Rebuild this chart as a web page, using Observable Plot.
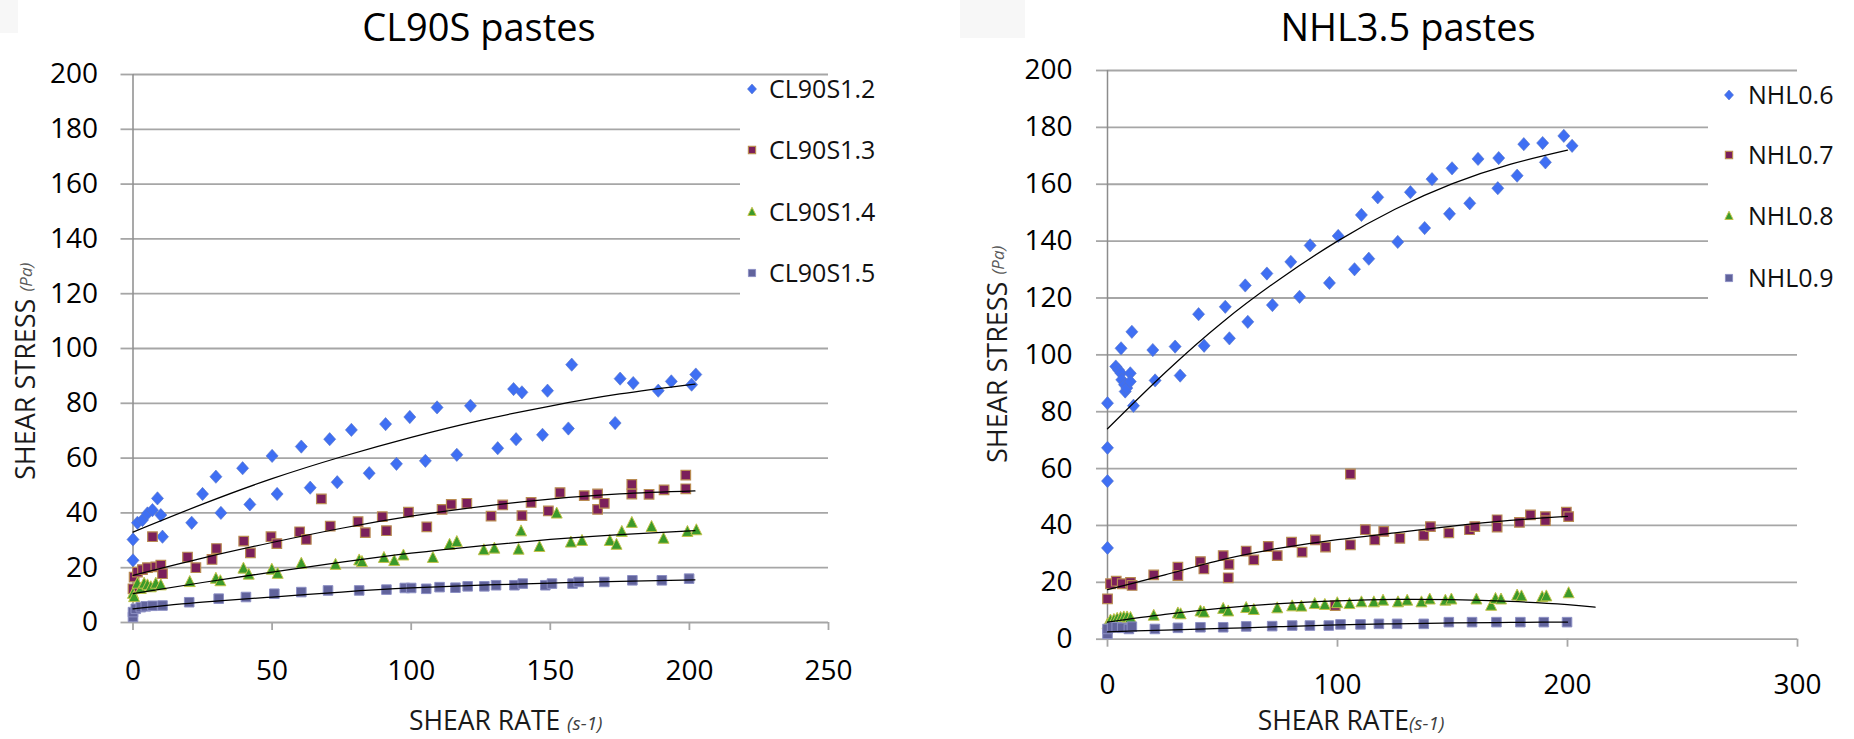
<!DOCTYPE html>
<html><head><meta charset="utf-8">
<script src="https://cdn.jsdelivr.net/npm/d3@7"></script>
<script src="https://cdn.jsdelivr.net/npm/@observablehq/plot@0.6"></script>
<style>
body{margin:0;background:#fff;}
#wrap{position:relative;width:1854px;height:739px;overflow:hidden;background:#fff;}
#wrap svg{position:absolute;top:0;}
</style></head><body><div id="wrap"></div>
<script>
// ---------------- DATA ----------------
const titles = ["CL90S pastes", "NHL3.5 pastes"];
const yAxisLabel = "SHEAR STRESS";
const yAxisUnit = "(Pa)";
const xAxisLabel = "SHEAR RATE";
const xAxisUnit = "(s-1)";
const yTicks = [0, 20, 40, 60, 80, 100, 120, 140, 160, 180, 200];
const clXTicks = [0, 50, 100, 150, 200, 250];
const nhlXTicks = [0, 100, 200, 300];

const clSeries = ["CL90S1.2", "CL90S1.3", "CL90S1.4", "CL90S1.5"];
const nhlSeries = ["NHL0.6", "NHL0.7", "NHL0.8", "NHL0.9"];

const cl12_x = [0,0,1.6,3.4,5.2,7,8.8,10,10.6,21.1,25,29.8,31.6,39.4,42,50,51.8,60.5,63.7,70.7,73.4,78.5,84.9,90.8,94.7,99.5,105.1,109.3,116.4,121.3,131.1,136.8,137.7,139.8,147.2,149,156.5,157.7,173.3,175.1,179.8,188.8,193.5,200.8,202.3];
const cl12_y = [22.7,30.3,36.4,37.4,39.8,41,45.3,39.2,31.3,36.4,46.9,53.2,40,56.3,43.1,60.8,46.9,64.2,49.2,66.9,51.2,70.3,54.5,72.4,57.9,75,59,78.5,61.2,79.1,63.6,85.2,66.9,84,68.5,84.6,70.8,94.1,72.8,89,87.4,84.6,88,86.8,90.5];
const cl13_x = [0,0.4,1.6,3.4,5.2,7,8.2,10,10.6,19.6,22.6,28.4,30,39.8,42.2,49.6,51.7,59.9,62.3,67.7,70.9,80.9,83.5,89.6,91.1,99,105.6,111.1,114.4,120,128.7,132.9,139.8,143.1,149.3,153.5,162.2,167,167,169.4,179.3,179.3,185.5,190.9,198.7,198.7];
const cl13_y = [12.3,16.6,18.4,19.3,20,31.3,20.3,20.9,17.8,23.9,20,23,27,29.7,25.4,31.3,28.8,33.1,30.3,45.1,35.2,36.8,32.8,38.6,33.5,40.3,34.9,41.3,43.1,43.5,38.8,42.9,39,43.8,40.7,47.4,46.3,46.9,41.3,43.5,50.4,46.9,46.8,48.4,53.8,48.8];
const cl14_x = [0,0.4,1.6,2.8,4,5.2,6.4,8.2,10,20.4,29.8,31.4,39.7,41.6,49.9,52,60.5,72.8,81.3,82.3,90.2,93.9,97.2,107.8,113.8,116.4,126.1,129.9,138.6,139.5,146.1,152.3,157.4,161.4,171.4,173.8,175.7,179.3,186.4,190.7,199.3,202.5];
const cl14_y = [10.5,9.3,14.2,12.3,14.2,13.6,12.9,14.2,13.6,14.8,16,15.1,19.7,17.5,19.3,17.8,21.5,21.1,22.7,22.1,23.6,22.5,24.5,23.6,28.4,29.4,26.4,27,26.6,33.3,27.6,39.8,29.2,29.8,29.8,28.4,33.1,36.4,34.9,30.6,33.1,33.7];
const cl15_x = [0,0,1,2.8,4.6,7,10.6,20.2,30.8,40.6,50.8,60.5,70.1,81.3,91.1,97.7,100,105.4,110.2,115.9,120.3,126.3,130.5,137.1,140.1,148.2,150.6,158,160.2,169.4,179.5,190.1,199.9];
const cl15_y = [2,3.8,5,5.6,5.9,6.1,6.2,7.4,8.7,9.3,10.5,11.1,11.7,11.7,12,12.6,12.6,12.3,12.9,12.7,13.2,13.2,13.6,13.6,14.2,13.6,14.2,14.2,14.8,14.8,15.4,15.4,16];

// trend lines
const clTrend_x = [0,25,50,75,100,125,150,175,202];
const cl12_trend = [33,43.2,52.5,60.5,67.6,73.8,79,83.4,87];
const cl13_trend = [17.2,23.5,29.2,34.4,38.8,42.3,45,46.9,48];
const cl14_trend = [10.5,14.6,18.4,22,25.3,28,30.3,32.1,33.5];
const cl15_trend = [5,7.4,9.3,11.1,12.6,13.6,14.4,15,15.6];

const nhl06_x = [0,0,0,0,3.6,4.8,5.9,6.2,7.4,7.7,8.4,9.9,9.9,5.9,10.6,11.3,19.7,20.7,29.4,31.6,39.6,42,51.2,53,59.9,61,69.3,71.7,79.7,83.5,88.1,96.5,100.3,107.4,110.4,113.6,117.5,126.2,131.7,137.9,141.1,148.7,149.8,157.5,161.1,169.7,170.1,178.1,181,189.2,190.4,198.4,202];
const nhl06_y = [32.1,55.6,67.3,83,95.9,94.7,93.5,91.2,89.5,87.1,88.3,93.5,90.6,102.3,108.1,82.1,101.7,91,102.9,92.7,114.3,103.2,116.9,105.8,124.4,111.6,128.6,117.5,132.7,120.4,138.5,125.3,141.8,130.1,149.2,133.8,155.4,139.7,157.2,144.6,161.8,149.6,165.6,153.3,168.9,158.6,169.2,163,174.1,174.5,167.7,177,173.5];
const nhl07_x = [0,1.3,3.8,6.4,10,10.7,20.1,30.6,30.6,40.4,41.9,50.3,52.5,52.8,60.3,63.6,69.9,73.8,80,84.6,90.4,94.8,99,105.6,105.6,112.1,116.2,120.1,127.1,137.5,140.4,148.4,157.4,159.7,169.4,169.4,179.1,183.9,190.4,190.4,199.5,200.5];
const nhl07_y = [14.2,19.5,20.4,19.5,20,18.9,22.6,25.3,22.4,27.3,24.7,29.4,21.6,26.3,31,27.9,32.6,29.4,34.1,30.6,34.9,32.4,11.8,58.1,33.2,38.5,34.9,37.9,35.5,36.5,39.6,37.4,38.5,39.6,42,39.4,41.1,43.7,43.1,41.7,44.7,43.1];
const nhl08_x = [0,1.3,2.8,4.2,5.7,7.1,8.5,10,20.1,30.6,31.8,40.4,41.9,50.3,52.5,60.3,63.6,73.8,80.3,84.3,90.1,94.5,99.9,105.2,110.4,115.8,119.8,126.3,130.3,136.5,140.1,146.9,149.5,160.4,166.8,168.7,171.1,178.1,180,189,190.8,200.5];
const nhl08_y = [5.2,6.6,6.8,7.2,7.5,7.7,7.7,7.5,8.3,9.1,8.8,9.8,9.4,10.7,9.8,11,10.3,10.9,11.6,11.5,12.4,12.1,12.7,12.4,13,13,13.6,13,13.6,13,14,13.6,14,14,11.8,14.2,14,15.4,15.1,14.8,15.1,16.2];
const nhl09_x = [0,0,2,4,6.4,9.3,10.6,20.6,30.6,40.4,50.3,60.3,71.6,80.3,88,96.2,101.3,110,118,125.9,137.5,148.4,158.5,169.1,179.5,189.7,199.8];
const nhl09_y = [1.9,3.6,4.2,4.2,4,3.6,4.4,3.6,4,4.2,4.2,4.5,4.6,4.8,4.8,4.8,5.2,5.2,5.4,5.4,5.4,6,6,6,6,6,6];

const nhlTrend_x = [0,25,50,75,100,125,150,175,200];
const nhl06_trend = [74,93.7,111.5,126.7,140,151.2,160.2,167,172];
const nhl07_trend = [17.4,22.6,28,32,35,37.4,39.8,41.8,43.2];
const nhl08_trend_x = [0,25,50,75,100,125,150,175,200,212];
const nhl08_trend = [6,8.7,10.9,12.5,13.5,14,13.9,13.3,12.2,11.3];
const nhl09_trend = [2.6,3.2,3.8,4.4,5,5.4,5.7,5.9,6];

// ---------------- STYLE ----------------
const FONT = '"Open Sans", "Noto Sans", sans-serif';
const GRID = "#a6a6a6";
const W = 927, H = 739;
const diamondSym = {draw(c, size){ const s = Math.sqrt(size); c.moveTo(0,-0.55*s); c.lineTo(0.5*s,0); c.lineTo(0,0.55*s); c.lineTo(-0.5*s,0); c.closePath(); }};
const squareSym = {draw(c, size){ const s = Math.sqrt(size)/2; c.moveTo(-s,-s); c.lineTo(s,-s); c.lineTo(s,s); c.lineTo(-s,s); c.closePath(); }};
const triSym = {draw(c, size){ const s = Math.sqrt(size); c.moveTo(0,-0.58*s); c.lineTo(0.5*s,0.42*s); c.lineTo(-0.5*s,0.42*s); c.closePath(); }};
const seriesStyle = [
  {symbol: diamondSym, r: 6.8, fill: "#3f6ff3", stroke: "#5873c6", strokeWidth: 0.6},
  {symbol: squareSym,  r: 5.4, fill: "#7b1f5b", stroke: "#b98b52", strokeWidth: 1.2},
  {symbol: triSym,     r: 6.2, fill: "#3b9a2a", stroke: "#c2c24a", strokeWidth: 1},
  {symbol: squareSym,  r: 5.4, fill: "#61639c", stroke: "#8d90c4", strokeWidth: 1}
];

function rows(xs, ys, s) { return xs.map((x, i) => ({x, y: ys[i], s})); }

function chart(cfg) {
  const marks = [
    Plot.gridY(yTicks, {stroke: GRID, strokeOpacity: 1, strokeWidth: 1.8}),
    Plot.axisY(yTicks, {tickSize: cfg.yTickSize, tickPadding: cfg.yTickPad, stroke: GRID, strokeWidth: 1.8, fill: "#000", fontSize: 28, label: null}),
    Plot.axisX(cfg.xTicks, {tickSize: 8, tickPadding: cfg.xTickPad, stroke: GRID, strokeWidth: 1.8, fill: "#000", fontSize: 28, label: null}),
    Plot.ruleX([0], {stroke: "#8c8c8c", strokeWidth: 1.5})
  ];
  cfg.points.forEach((d, i) => {
    const st = seriesStyle[i];
    marks.push(Plot.dot(d, {x: "x", y: "y", symbol: st.symbol, r: st.r, fill: st.fill, stroke: st.stroke, strokeWidth: st.strokeWidth}));
  });
  marks.push(Plot.line(cfg.trends, {x: "x", y: "y", z: "s", stroke: "#000", strokeWidth: 1.25, curve: "natural"}));
  const svg = Plot.plot({
    width: W, height: H,
    marginLeft: cfg.ml, marginRight: cfg.mr, marginTop: cfg.mt, marginBottom: cfg.mb,
    style: {background: "transparent", fontFamily: FONT, overflow: "visible", color: "#000"},
    x: {domain: cfg.xDomain},
    y: {domain: [0, 200]},
    marks
  });
  svg.style.left = cfg.left + "px";
  const g = d3.select(svg).append("g").attr("font-family", FONT).attr("text-anchor", "start");
  // faint corner box
  g.append("rect").attr("x", cfg.corner[0]).attr("y", 0).attr("width", cfg.corner[1]).attr("height", cfg.corner[2]).attr("fill", "#f7f7f7");
  // legend backdrop
  g.append("rect").attr("x", cfg.legBox[0]).attr("y", cfg.legBox[1]).attr("width", cfg.legBox[2]).attr("height", cfg.legBox[3]).attr("fill", "#fff");
  cfg.names.forEach((name, i) => {
    const st = seriesStyle[i];
    const y = cfg.legY[i];
    g.append("path").attr("transform", `translate(${cfg.legX},${y})`)
      .attr("d", d3.symbol(st.symbol, Math.PI * (st.r * 0.75) ** 2)())
      .attr("fill", st.fill).attr("stroke", st.stroke).attr("stroke-width", st.strokeWidth);
    g.append("text").attr("x", cfg.legX + cfg.legGap).attr("y", y).attr("dy", "0.36em")
      .attr("text-anchor", "start").attr("font-size", 25).attr("fill", "#111").text(name);
  });
  // title
  g.append("text").attr("x", cfg.titleX).attr("y", cfg.titleY).attr("text-anchor", "middle")
    .attr("font-size", 38).attr("fill", "#000").text(cfg.title);
  // x label
  const xl = g.append("text").attr("x", cfg.xLabX).attr("y", cfg.xLabY).attr("text-anchor", cfg.xLabAnchor)
    .attr("font-size", 26.5).attr("fill", "#1a1a1a");
  xl.append("tspan").text(xAxisLabel + cfg.xLabSep);
  xl.append("tspan").attr("font-style", "italic").attr("font-size", 19).attr("fill", "#404040").text(xAxisUnit);
  // y label
  const yl = g.append("text").attr("transform", `translate(${cfg.yLabX},${cfg.yLabY}) rotate(-90)`)
    .attr("text-anchor", "start").attr("font-size", 27).attr("fill", "#1a1a1a");
  yl.append("tspan").text(yAxisLabel + " ");
  yl.append("tspan").attr("font-style", "italic").attr("font-size", 17).attr("fill", "#595959").attr("dy", -3).text(yAxisUnit);
  document.getElementById("wrap").appendChild(svg);
}

const clPoints = [rows(cl12_x, cl12_y, 0), rows(cl13_x, cl13_y, 1), rows(cl14_x, cl14_y, 2), rows(cl15_x, cl15_y, 3)];
const clTrends = [cl12_trend, cl13_trend, cl14_trend, cl15_trend].flatMap((t, i) => rows(clTrend_x, t, i));
const nhlPoints = [rows(nhl06_x, nhl06_y, 0), rows(nhl07_x, nhl07_y, 1), rows(nhl08_x, nhl08_y, 2), rows(nhl09_x, nhl09_y, 3)];
const nhlTrends = [
  ...rows(nhlTrend_x, nhl06_trend, 0),
  ...rows(nhlTrend_x, nhl07_trend, 1),
  ...rows(nhl08_trend_x, nhl08_trend, 2),
  ...rows(nhlTrend_x, nhl09_trend, 3)
];

chart({
  left: 0, ml: 132.5, mr: 99, mt: 74, mb: 117, xDomain: [0, 250], xTicks: clXTicks,
  yTickSize: 12, yTickPad: 23, xTickPad: 30,
  points: clPoints, trends: clTrends, names: clSeries,
  corner: [0, 18, 33], legBox: [740, 80, 187, 240], legX: 752, legGap: 17, legY: [89, 150, 212, 273],
  title: titles[0], titleX: 479, titleY: 41,
  xLabX: 409, xLabY: 730, xLabAnchor: "start", xLabSep: " ", yLabX: 35, yLabY: 480
});
chart({
  left: 927, ml: 180, mr: 57, mt: 70, mb: 100.3, xDomain: [0, 300], xTicks: nhlXTicks,
  yTickSize: 11, yTickPad: 24, xTickPad: 27,
  points: nhlPoints, trends: nhlTrends, names: nhlSeries,
  corner: [33, 65, 38], legBox: [781, 76, 146, 254], legX: 802, legGap: 19, legY: [95, 155, 216, 278],
  title: titles[1], titleX: 481, titleY: 41,
  xLabX: 424, xLabY: 730, xLabAnchor: "middle", xLabSep: "", yLabX: 80, yLabY: 463
});
</script></body></html>
